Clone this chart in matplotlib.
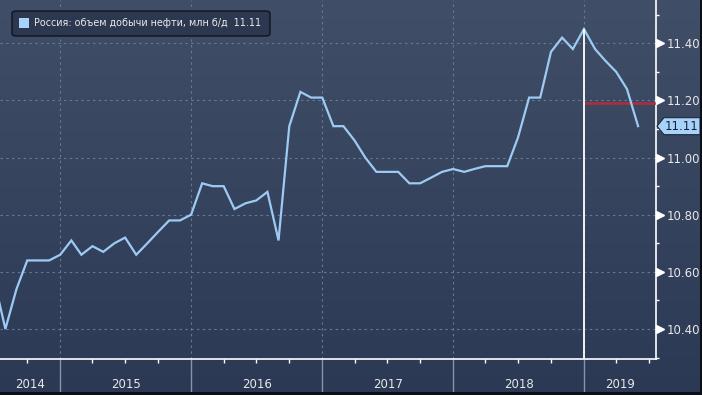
import numpy as np
import pandas as pd
import matplotlib
matplotlib.use("Agg")
import matplotlib.pyplot as plt
import matplotlib.dates as mdates
import matplotlib.transforms as mtransforms
from matplotlib.patches import FancyBboxPatch, Polygon, Rectangle
from matplotlib.colors import LinearSegmentedColormap

# ---------------- data ----------------
start_month = "2014-07-01"
values = [10.57, 10.40, 10.54, 10.64, 10.64, 10.64,            # 2014 Jul-Dec
          10.66, 10.71, 10.66, 10.69, 10.67, 10.70,            # 2015 Jan-Jun
          10.72, 10.66, 10.70, 10.74, 10.78, 10.78,            # 2015 Jul-Dec
          10.80, 10.91, 10.90, 10.90, 10.82, 10.84,            # 2016 Jan-Jun
          10.85, 10.88, 10.71, 11.11, 11.23, 11.21,            # 2016 Jul-Dec
          11.21, 11.11, 11.11, 11.06, 11.00, 10.95,            # 2017 Jan-Jun
          10.95, 10.95, 10.91, 10.91, 10.93, 10.95,            # 2017 Jul-Dec
          10.96, 10.95, 10.96, 10.97, 10.97, 10.97,            # 2018 Jan-Jun
          11.07, 11.21, 11.21, 11.37, 11.42, 11.38,            # 2018 Jul-Dec
          11.45, 11.38, 11.34, 11.30, 11.24, 11.11]            # 2019 Jan-Jun
dates = pd.date_range(start_month, periods=len(values), freq="MS")
years = [2014, 2015, 2016, 2017, 2018, 2019]
yticks = [10.40, 10.60, 10.80, 11.00, 11.20, 11.40]
ref_level = 11.19
last_label = "11.11"
legend_text = "Россия: объем добычи нефти, млн б/д  11.11"

# ---------------- figure ----------------
W, H = 702, 395
fig = plt.figure(figsize=(W / 100, H / 100), dpi=100)

def fx(px):
    return px / W

def fy(py):
    return 1 - py / H

# gradient background
bg = fig.add_axes([0, 0, 1, 1], zorder=-10)
cmap = LinearSegmentedColormap.from_list("bg", ["#2b3955", "#414e67"])
grad = np.linspace(0, 1, 256).reshape(-1, 1)
bg.imshow(grad, aspect="auto", cmap=cmap, origin="lower", extent=[0, 1, 0, 1])
bg.set_xlim(0, 1)
bg.set_ylim(0, 1)
bg.axis("off")

ax = fig.add_axes([0, fy(359), fx(656), 359 / H])
ax.set_facecolor("none")

line_color = "#9dcbf4"
ax.plot(dates, values, color=line_color, lw=1.6, zorder=5, solid_joinstyle="miter")

x0 = pd.Timestamp("2014-07-17")
x1 = pd.Timestamp("2019-07-21")
ax.set_xlim(x0, x1)
ax.set_ylim(10.295, 11.5516)

# grid
grid_kw = dict(color="#667894", lw=0.8, ls=(0, (2.2, 3)), zorder=1)
for yv in yticks:
    ax.axhline(yv, **grid_kw)
for yr in years[1:]:
    ax.axvline(pd.Timestamp(f"{yr}-01-01"), **grid_kw)

# peak marker line and reference level
peak_i = int(np.argmax(values))
peak_date = dates[peak_i]
ax.vlines(peak_date, 10.295, values[peak_i], color="white", lw=1.3, zorder=6)
ax.hlines(ref_level, peak_date, x1, color="#b22d3a", lw=1.8, zorder=4)

# spines
for s in ["top", "left"]:
    ax.spines[s].set_visible(False)
for s in ["right", "bottom"]:
    ax.spines[s].set_color("white")
    ax.spines[s].set_linewidth(1.2)

# y axis on right
ax.yaxis.tick_right()
ax.set_yticks(yticks)
ax.set_yticklabels([f"{v:.2f}" for v in yticks])
ax.set_yticks(np.arange(10.3, 11.55, 0.2), minor=True)
ax.tick_params(axis="y", which="major", length=0, pad=7.5, labelsize=8.5,
               labelcolor="#e8e8e8")
ax.tick_params(axis="y", which="minor", length=2.5, width=1, color="white",
               direction="out")
tri_tr = mtransforms.blended_transform_factory(ax.transAxes, ax.transData) + \
    mtransforms.ScaledTranslation(3.5 / 100, 0, fig.dpi_scale_trans)
ax.plot([1] * len(yticks), yticks, ls="none", marker=">", ms=5.5, color="white",
        transform=tri_tr, clip_on=False, zorder=7)

# x axis
year_starts = [pd.Timestamp(f"{yr}-01-01") for yr in years[1:]]
ax.set_xticks(year_starts)
ax.set_xticklabels([])
quarters = [d for d in pd.date_range("2014-04-01", "2019-12-01", freq="QS")
            if d.month != 1 and x0 <= d <= x1]
ax.set_xticks(quarters, minor=True)
ax.tick_params(axis="x", which="major", length=27, width=1, color="#8794aa",
               direction="out")
ax.tick_params(axis="x", which="minor", length=2.8, width=1, color="white",
               direction="out")

lab_tr = mtransforms.blended_transform_factory(ax.transData, ax.transAxes)
for yr in years:
    a = max(pd.Timestamp(f"{yr}-01-01"), x0)
    b = min(pd.Timestamp(f"{yr + 1}-01-01"), x1)
    mid = a + (b - a) / 2
    ax.text(mid, -26 / 359, str(yr), transform=lab_tr, ha="center", va="center",
            fontsize=8.5, color="#e8e8e8")

# last value tag
fig.canvas.draw()
ypix = ax.transData.transform((0, values[-1]))[1]  # display coords from bottom
yc = H - ypix
tag = Polygon([(fx(657), fy(yc)), (fx(664), fy(yc - 8.5)), (fx(700), fy(yc - 8.5)),
               (fx(700), fy(yc + 8.5)), (fx(664), fy(yc + 8.5))],
              closed=True, transform=fig.transFigure, facecolor="#a9d2f8",
              edgecolor="#1b2a40", lw=0.8, zorder=20)
fig.add_artist(tag)
fig.text(fx(682), fy(yc), last_label, ha="center", va="center", fontsize=8.5,
         color="#13233a", zorder=21)

# legend
leg = FancyBboxPatch((fx(12), fy(36)), fx(258), 25 / H,
                     boxstyle="round,pad=0,rounding_size=0.006",
                     transform=fig.transFigure, facecolor="#2c384f",
                     edgecolor="#0e1420", lw=1.0, zorder=20)
fig.add_artist(leg)
fig.add_artist(Rectangle((fx(19), fy(28)), fx(10), 10 / H, transform=fig.transFigure,
                         facecolor="#a9d2f8", edgecolor="none", zorder=21))
fig.text(fx(34), fy(23.5), legend_text, ha="left", va="center", fontsize=6.95,
         color="#eaeaea", zorder=21)

# thin dark frame at bottom/right edges
fig.add_artist(Rectangle((0, 0), 1, 3 / H, transform=fig.transFigure,
                         facecolor="#0b0f18", edgecolor="none", zorder=30))
fig.add_artist(Rectangle((1 - 2 / W, 0), 2 / W, 1, transform=fig.transFigure,
                         facecolor="#0b0f18", edgecolor="none", zorder=30))

fig.savefig("out.png", dpi=100)
